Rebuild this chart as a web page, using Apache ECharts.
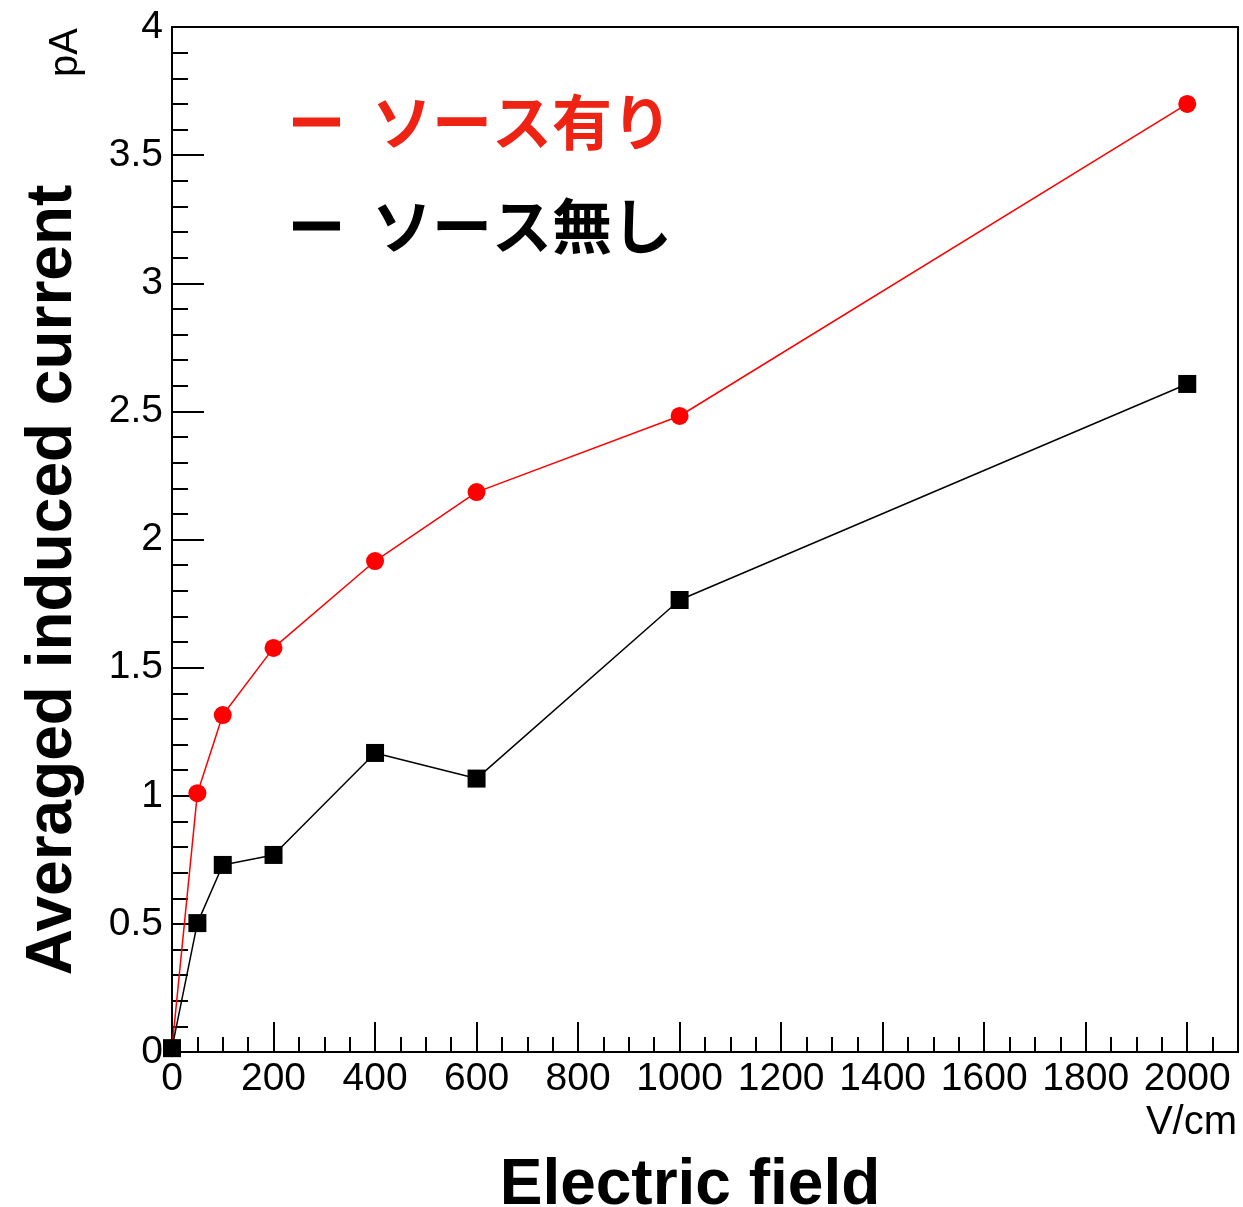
<!DOCTYPE html>
<html>
<head>
<meta charset="utf-8">
<script src="https://cdn.jsdelivr.net/npm/echarts@6/dist/echarts.min.js"></script>
<style>
html,body{margin:0;padding:0;background:#fff;}
#chart{width:1243px;height:1207px;}
</style>
</head>
<body>
<div id="chart"></div>
<script>
// Data
const fieldValues = [0, 50, 100, 200, 400, 600, 1000, 2000];          // V/cm
const withSource = [0.015, 1.01, 1.315, 1.577, 1.916, 2.185, 2.482, 3.70];   // pA
const withoutSource = [0.015, 0.503, 0.73, 0.769, 1.167, 1.067, 1.764, 2.607]; // pA
const seriesNames = ['ソース有り', 'ソース無し'];
const xTitle = 'Electric field';
const yTitle = 'Averaged induced current';
const xUnit = 'V/cm';
const yUnit = 'pA';

const LATIN = '"Liberation Sans", Arial, Helvetica, sans-serif';
const CJK = '"Noto Sans CJK JP", "Noto Sans CJK SC", sans-serif';

const pairs = (ys) => fieldValues.map((x, i) => [x, ys[i]]);

const chart = echarts.init(document.getElementById('chart'), null, {renderer: 'canvas'});

chart.setOption({
  backgroundColor: '#fff',
  animation: false,
  grid: {
    left: 172, top: 27, right: 5, bottom: 155,
    outerBoundsMode: 'none', containLabel: false,
    show: true, borderColor: '#000', borderWidth: 2, backgroundColor: 'transparent'
  },
  legend: {
    orient: 'vertical',
    left: 288,
    top: 87,
    itemGap: 44,
    itemWidth: 47,
    itemHeight: 9,
    icon: 'rect',
    selectedMode: false,
    textStyle: {
      fontFamily: CJK, fontSize: 60, fontWeight: 'bold', lineHeight: 60,
      padding: [0, 0, 0, 27]
    },
    data: [
      {name: seriesNames[0], itemStyle: {color: '#ee2314'}, textStyle: {color: '#ee2314'}},
      {name: seriesNames[1], itemStyle: {color: '#000'}, textStyle: {color: '#000'}}
    ]
  },
  xAxis: [
    {
      type: 'value', min: 0, max: 2100, interval: 200,
      position: 'bottom',
      name: xTitle, nameLocation: 'middle', nameGap: 102,
      nameTextStyle: {fontFamily: LATIN, fontSize: 64, fontWeight: 'bold', color: '#000',
        padding: [0, 30, 0, 0]},
      axisLine: {show: true, onZero: false, lineStyle: {color: '#000', width: 2}},
      axisTick: {show: true, inside: true, length: 30, lineStyle: {color: '#000', width: 2}},
      axisLabel: {
        show: true, margin: 8, fontFamily: LATIN, fontSize: 39, color: '#000',
        formatter: (v) => (v > 2000 ? '' : String(v))
      },
      splitLine: {show: false}
    },
    {
      type: 'value', min: 0, max: 2100, interval: 50,
      position: 'bottom', offset: 0,
      axisLine: {show: false},
      axisTick: {show: true, inside: true, length: 15, lineStyle: {color: '#000', width: 2}},
      axisLabel: {show: false},
      splitLine: {show: false}
    }
  ],
  yAxis: {
    type: 'value', min: 0, max: 4, interval: 0.5,
    axisLine: {show: true, onZero: false, lineStyle: {color: '#000', width: 2}},
    axisTick: {show: true, inside: true, length: 32, lineStyle: {color: '#000', width: 2}},
    minorTick: {show: true, splitNumber: 5, length: 16, lineStyle: {color: '#000', width: 2}},
    axisLabel: {show: true, margin: 9, fontFamily: LATIN, fontSize: 39, color: '#000'},
    splitLine: {show: false},
    minorSplitLine: {show: false}
  },
  graphic: [
    {
      type: 'text', x: 53, y: 580, rotation: Math.PI / 2, silent: true,
      style: {
        text: yTitle, fontFamily: LATIN, fontSize: 64, fontWeight: 'bold', fill: '#000',
        align: 'center', verticalAlign: 'middle', textAlign: 'center', textVerticalAlign: 'middle'
      }
    },
    {
      type: 'text', x: 66, y: 28, rotation: Math.PI / 2, silent: true,
      style: {
        text: yUnit, fontFamily: LATIN, fontSize: 40, fill: '#000',
        align: 'right', verticalAlign: 'middle', textAlign: 'right', textVerticalAlign: 'middle'
      }
    },
    {
      type: 'text', x: 1237, y: 1123, silent: true,
      style: {
        text: xUnit, fontFamily: LATIN, fontSize: 40, fill: '#000',
        align: 'right', verticalAlign: 'middle', textAlign: 'right', textVerticalAlign: 'middle'
      }
    }
  ],
  series: [
    {
      name: seriesNames[0], type: 'line', xAxisIndex: 0,
      data: pairs(withSource),
      symbol: 'circle', symbolSize: 18,
      itemStyle: {color: '#ff0000'},
      lineStyle: {color: '#ff0000', width: 1.5},
      clip: false, z: 2
    },
    {
      name: seriesNames[1], type: 'line', xAxisIndex: 0,
      data: pairs(withoutSource),
      symbol: 'rect', symbolSize: 18,
      itemStyle: {color: '#000'},
      lineStyle: {color: '#000', width: 1.5},
      clip: false, z: 3
    }
  ]
});
</script>
</body>
</html>
